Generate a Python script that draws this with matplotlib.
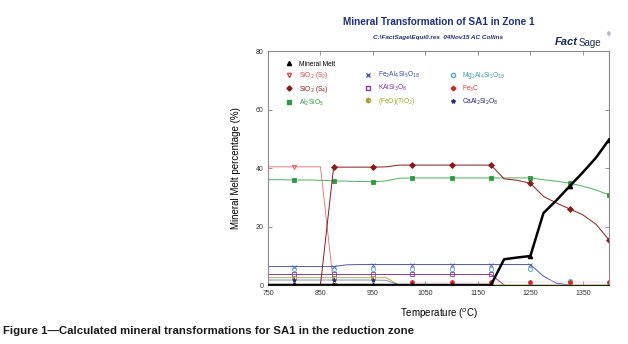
import matplotlib
matplotlib.use("Agg")
import matplotlib.pyplot as plt
from matplotlib.lines import Line2D
import numpy as np

plt.rcParams['font.family'] = ['Liberation Sans', 'DejaVu Sans']

# temperature grid of the calculation (deg C)
temps = [750, 775, 800, 825, 850, 875, 900, 925, 950, 975, 1000, 1025, 1050, 1075,
         1100, 1125, 1150, 1175, 1200, 1225, 1250, 1275, 1300, 1325, 1350, 1375, 1400]

N = None
melt = [0, 0, 0, 0, 0, 0, 0, 0, 0, 0, 0, 0, 0, 0,
        0, 0, 0, 0, 8.8, 9.4, 9.9, 24.6, 29.0, 33.8, 38.5, 43.5, 49.7]
sio2_s2 = [40.4, 40.4, 40.4, 40.4, 40.4, 0, N, N, N, N, N, N, N, N,
           N, N, N, N, N, N, N, N, N, N, N, N, N]
sio2_s4 = [0, 0, 0, 0, 0, 40.3, 40.3, 40.3, 40.3, 40.4, 41.0, 41.0, 41.0, 41.0,
           41.0, 41.0, 41.0, 41.0, 36.3, 35.8, 34.8, 30.3, 28.0, 26.0, 24.0, 20.8, 15.4]
al2sio5 = [36.0, 36.0, 35.9, 35.9, 35.8, 35.6, 35.5, 35.4, 35.3, 35.6, 36.5, 36.6, 36.6, 36.6,
           36.6, 36.6, 36.6, 36.6, 36.6, 36.6, 36.6, 36.0, 35.5, 34.8, 33.8, 32.5, 30.8]
fe_cord = [6.3, 6.3, 6.3, 6.3, 6.3, 6.3, 6.9, 7.0, 7.0, 7.0, 7.0, 7.0, 7.0, 7.0,
           7.0, 7.0, 7.0, 7.0, 7.0, 7.0, 7.0, 3.0, 0.6, 0, N, N, N]
mg_cord = [5.4, 5.4, 5.4, 5.4, 5.4, 5.4, 5.4, 5.4, 5.4, 5.4, 5.4, 5.4, 5.4, 5.4,
           5.4, 5.4, 5.4, 5.4, 5.4, 5.4, 5.4, 1.8, 1.4, 1.2, 0.6, 0.2, 0]
kalsi3o8 = [3.6, 3.6, 3.6, 3.6, 3.6, 3.6, 3.6, 3.6, 3.6, 3.6, 3.6, 3.6, 3.6, 3.6,
            3.6, 3.6, 3.6, 3.6, 0, N, N, N, N, N, N, N, N]
fe3c = [N, N, N, N, N, N, N, N, N, N, 0.9, 0.9, 0.9, 0.9,
        0.9, 0.9, 0.9, 0.9, 0.9, 0.9, 0.9, 0.9, 0.9, 0.9, 0.9, 0.9, 0.9]
feo_tio2 = [2.5, 2.5, 2.5, 2.5, 2.5, 2.5, 2.5, 2.5, 2.5, 2.5, 0, 0, 0, 0,
            0, 0, 0, 0, 0, 0, 0, 0, 0, 0, 0, 0, 0]
anorthite = [1.7, 1.7, 1.7, 1.7, 1.7, 1.7, 1.7, 1.7, 1.7, 1.6, 0, N, N, N,
             N, N, N, N, N, N, N, N, N, N, N, N, N]

labels = ["Mineral Melt", "SiO$_2$ (S$_2$)", "SiO$_2$ (S$_4$)", "Al$_2$SiO$_5$",
          "Fe$_2$Al$_4$Si$_5$O$_{18}$", "KAlSi$_3$O$_8$", "(FeO)(TiO$_2$)",
          "Mg$_2$Al$_4$Si$_5$O$_{18}$", "Fe$_3$C", "CaAl$_2$Si$_2$O$_8$"]
xticks = [750, 850, 950, 1050, 1150, 1250, 1350]
yticks = [0, 20, 40, 60, 80]


def arr(v):
    return np.array([np.nan if a is None else a for a in v], dtype=float)


fig = plt.figure(figsize=(6.28, 3.44), dpi=100)
ax = fig.add_axes([0.4268, 0.1715, 0.5430, 0.6802])

every = slice(2, None, 3)
# (data, line colour, marker colour, marker, filled, line width)
series = [
    (sio2_s2, '#e06a6a', '#e04848', 'v', False, 0.6),
    (fe_cord, '#4a58b0', '#4a58b0', 'x', True, 0.7),
    (mg_cord, '#e2ecf6', '#5aa0d8', 'o', False, 0.3),
    (kalsi3o8, '#8a3aa0', '#8a3aa0', 's', False, 0.7),
    (feo_tio2, '#b8b040', '#a8a030', 'o', 'left', 0.7),
    (anorthite, '#8090c8', '#2a2a8a', '*', True, 0.7),
    (fe3c, '#f0b0b0', '#d02828', 'P', True, 0.3),
    (al2sio5, '#4cb05a', '#2e9a3e', 's', True, 0.7),
    (sio2_s4, '#8b1a1a', '#8b1a1a', 'D', True, 0.7),
]
for data, lc, mc, mk, filled, lw in series:
    kw = dict(markerfacecolor=mc, markeredgecolor=mc)
    if filled is False:
        kw['markerfacecolor'] = 'none'
    elif filled == 'left':
        kw['fillstyle'] = 'left'
        kw['markerfacecoloralt'] = '#f0f0c0'
    ax.plot(temps, arr(data), color=lc, lw=lw, marker=mk, markersize=3.0,
            markeredgewidth=0.6, markevery=every, **kw)

ax.plot(temps, arr(melt), color='black', lw=1.8, marker='^', markersize=3.0,
        markevery=every, zorder=5)

ax.set_xlim(750, 1400)
ax.set_ylim(0, 80)
ax.set_xticks(xticks)
ax.set_yticks(yticks)
ax.tick_params(direction='in', length=3, width=0.6, color='#808080', labelsize=5,
               top=True, right=True, labelcolor='#303030')
ax.tick_params(axis='x', pad=3.5)
ax.tick_params(axis='y', pad=3)
for s in ax.spines.values():
    s.set_color('#8a8a8a')
    s.set_linewidth(0.8)
ax.spines['bottom'].set_color('#202020')

ax.set_ylabel("Mineral Melt percentage (%)", fontsize=7, labelpad=11)
ax.set_xlabel("Temperature ($^{o}$C)", fontsize=7, labelpad=7)

# legend: marker-only proxies, three columns with first row holding only the melt
blank = Line2D([], [], ls='none', marker='')
proxies = [
    Line2D([], [], ls='none', marker='^', color='black', markersize=3),
    Line2D([], [], ls='none', marker='v', color='#e04848', mfc='none', markersize=3),
    Line2D([], [], ls='none', marker='D', color='#8b1a1a', markersize=2.6),
    Line2D([], [], ls='none', marker='s', color='#2e9a3e', markersize=3),
    blank,
    Line2D([], [], ls='none', marker='x', color='#4a58b0', markersize=3),
    Line2D([], [], ls='none', marker='s', color='#8a3aa0', mfc='none', markersize=3),
    Line2D([], [], ls='none', marker='o', color='#a8a030', fillstyle='left', markersize=3),
    blank,
    Line2D([], [], ls='none', marker='o', color='#5aa0d8', mfc='none', markersize=3),
    Line2D([], [], ls='none', marker='P', color='#d02828', markersize=3),
    Line2D([], [], ls='none', marker='*', color='#2a2a8a', markersize=3),
]
leg_labels = [labels[0], labels[1], labels[2], labels[3], '',
              labels[4], labels[5], labels[6], '',
              labels[7], labels[8], labels[9]]
text_colors = ['black', '#e04040', '#8b1a1a', '#2a9a3a', 'black',
               '#3a4aa0', '#7a30a0', '#a0a020', 'black',
               '#3a9a9a', '#d03030', '#202080']
leg = ax.legend(proxies, leg_labels, ncol=3, loc='upper left', bbox_to_anchor=(0.045, 0.97),
                frameon=False, fontsize=4.8, handlelength=1.0, handletextpad=0.9,
                labelspacing=0.38, columnspacing=4.5, borderaxespad=0)
for t, c in zip(leg.get_texts(), text_colors):
    t.set_color(c)

fig.text(0.698, 0.936, "Mineral Transformation of SA1 in Zone 1", ha='center', va='center',
         fontsize=7.2, fontweight='bold', color='#1f2f7a')
fig.text(0.698, 0.892, "C:\\FactSage\\Equi0.res  04Nov15 AC Collins", ha='center', va='center',
         fontsize=4.6, fontweight='bold', style='italic', color='#1f2f7a')
fig.text(0.884, 0.878, "Fact", ha='left', va='center', fontsize=8, fontweight='bold',
         style='italic', color='#1a2a5a')
fig.text(0.922, 0.876, "Sage", ha='left', va='center', fontsize=7, color='#1a2a5a')
fig.text(0.966, 0.9, "\u00ae", ha='left', va='center', fontsize=3.5, color='#1a2a5a')

fig.text(0.005, 0.038, "Figure 1\u2014Calculated mineral transformations for SA1 in the reduction zone",
         ha='left', va='center', fontsize=8.2, fontweight='bold', color='#1a1a1a',
         family=['Liberation Sans Narrow', 'Liberation Sans', 'DejaVu Sans'])

fig.savefig("out.png", dpi=100)
